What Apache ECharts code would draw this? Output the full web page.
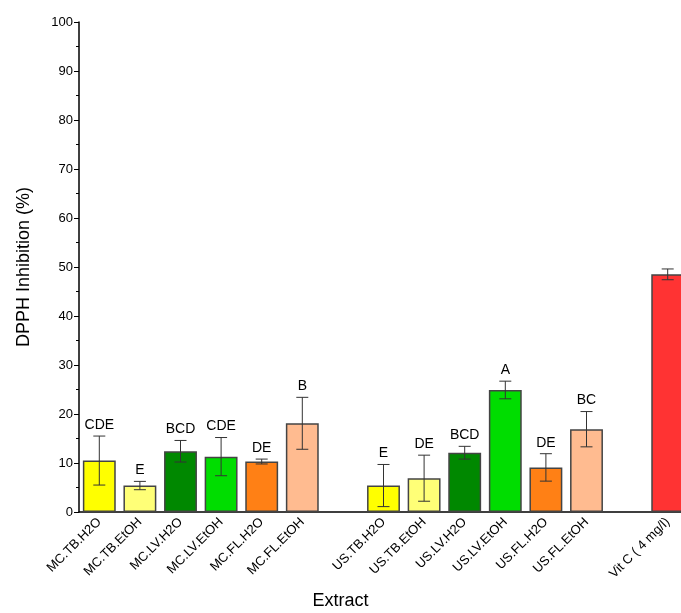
<!DOCTYPE html>
<html>
<head>
<meta charset="utf-8" />
<script src="https://cdn.jsdelivr.net/npm/echarts@6/dist/echarts.min.js"></script>
<style>html,body{margin:0;padding:0;background:#fff;overflow:hidden}#main{width:690px;height:613px}</style>
</head>
<body>
<div id="main"></div>
<script>
var categories = ['MC.TB.H2O','MC.TB.EtOH','MC.LV.H2O','MC.LV.EtOH','MC.FL.H2O','MC.FL.EtOH','',
  'US.TB.H2O','US.TB.EtOH','US.LV.H2O','US.LV.EtOH','US.FL.H2O','US.FL.EtOH','','Vit C ( 4 mg/l)'];
var values = [10.5,5.4,12.4,11.3,10.3,18.1,null,5.4,6.9,12.1,24.9,9.1,16.9,null,48.5];
var errors = [5.0,0.85,2.2,3.9,0.5,5.3,null,4.3,4.7,1.3,1.8,2.8,3.6,null,1.1];
var letters = ['CDE','E','BCD','CDE','DE','B','','E','DE','BCD','A','DE','BC','',''];
var colors = ['#ffff00','#ffff77','#008800','#00dd00','#ff8015','#ffbb90',null,
  '#ffff00','#ffff77','#008800','#00dd00','#ff8015','#ffbb90',null,'#ff3333'];

var barData = values.map(function (v, i) {
  return v == null ? null : { value: v, itemStyle: { color: colors[i] } };
});
var errData = [];
values.forEach(function (v, i) {
  if (v != null) errData.push([i, v - errors[i], v + errors[i], letters[i]]);
});

var myChart = echarts.init(document.getElementById('main'));
myChart.setOption({
  animation: false,
  grid: { left: 79, right: 2, top: 22, bottom: 101, containLabel: false, outerBoundsMode: 'none' },
  xAxis: {
    type: 'category', data: categories,
    name: 'Extract', nameLocation: 'middle', nameGap: 80,
    nameTextStyle: { fontSize: 18, color: '#000', fontFamily: 'Liberation Sans', padding: [0, 86, 0, 0] },
    axisLine: { lineStyle: { color: '#000', width: 1.5 } },
    axisTick: { show: false },
    axisLabel: { rotate: 45, interval: 0, fontSize: 13, color: '#000', fontFamily: 'Liberation Sans', margin: 8 }
  },
  yAxis: {
    type: 'value', min: 0, max: 100, interval: 10,
    name: 'DPPH Inhibition (%)', nameLocation: 'middle', nameGap: 46,
    nameTextStyle: { fontSize: 18, color: '#000', fontFamily: 'Liberation Sans' },
    axisLine: { show: true, lineStyle: { color: '#000', width: 1.5 } },
    axisTick: { show: true, length: 5, lineStyle: { color: '#000' } },
    minorTick: { show: true, splitNumber: 2, length: 3, lineStyle: { color: '#000' } },
    splitLine: { show: false },
    axisLabel: { fontSize: 13, color: '#000', fontFamily: 'Liberation Sans', margin: 6 }
  },
  series: [{
    type: 'bar', data: barData, barWidth: '81%',
    itemStyle: { borderColor: '#444', borderWidth: 1.5 }
  }, {
    type: 'custom', data: errData, z: 10,
    renderItem: function (params, api) {
      var x = api.value(0);
      var lo = api.coord([x, api.value(1)]);
      var hi = api.coord([x, api.value(2)]);
      var w = 6;
      var st = { stroke: '#333', lineWidth: 1 };
      return { type: 'group', children: [
        { type: 'line', shape: { x1: lo[0], y1: lo[1], x2: hi[0], y2: hi[1] }, style: st },
        { type: 'line', shape: { x1: lo[0] - w, y1: lo[1], x2: lo[0] + w, y2: lo[1] }, style: st },
        { type: 'line', shape: { x1: hi[0] - w, y1: hi[1], x2: hi[0] + w, y2: hi[1] }, style: st },
        { type: 'text', style: { text: api.value(3), x: hi[0], y: hi[1] - 4, align: 'center', verticalAlign: 'bottom',
          fontSize: 14, fill: '#000', fontFamily: 'Liberation Sans' } }
      ] };
    }
  }]
});
</script>
</body>
</html>
